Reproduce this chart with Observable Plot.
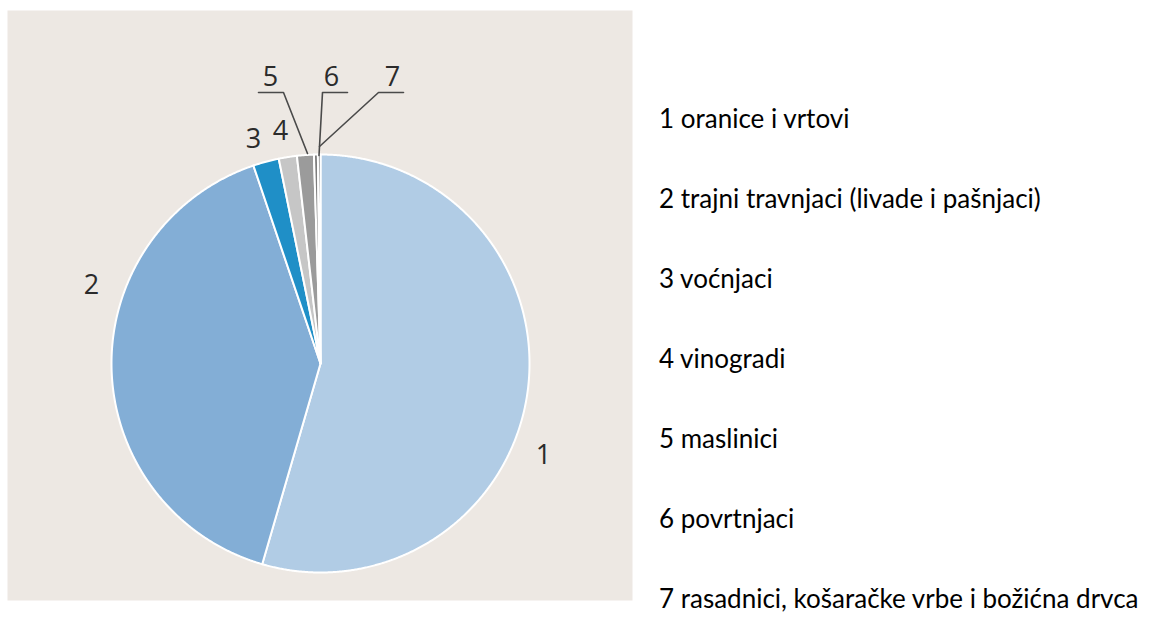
<!DOCTYPE html>
<html>
<head>
<meta charset="utf-8">
<script src="https://cdn.jsdelivr.net/npm/d3@7"></script>
<script src="https://cdn.jsdelivr.net/npm/@observablehq/plot@0.6"></script>
<style>
  html, body { margin: 0; padding: 0; background: #ffffff; }
  #wrap { position: relative; width: 1163px; height: 617px; overflow: hidden; }
  #chart { position: absolute; left: 0; top: 0; }
  #legend { position: absolute; left: 659px; top: 78px; font-family: Lato, "Open Sans", sans-serif; font-size: 26px; color: #000; }
  #legend div { height: 80px; line-height: 80px; white-space: nowrap; }
</style>
</head>
<body>
<div id="wrap">
  <div id="chart"></div>
  <div id="legend"></div>
</div>
<script>
// ---- data ----
const keys = ["1", "2", "3", "4", "5", "6", "7"];
const names = [
  "oranice i vrtovi",
  "trajni travnjaci (livade i pašnjaci)",
  "voćnjaci",
  "vinogradi",
  "maslinici",
  "povrtnjaci",
  "rasadnici, košaračke vrbe i božićna drvca"
];
const shares = [54.5, 40.3, 2.0, 1.4, 1.3, 0.3, 0.2];
const colors = ["#b1cce5", "#83aed6", "#1f8fc7", "#c6c6c6", "#9b9b9b", "#7d7d7d", "#5e5e5e"];

// ---- build slices ----
const R = 209;
const rows = keys.map((k, i) => ({key: k, value: shares[i]}));
const arcs = d3.pie().sort(null).value(d => d.value)(rows);
const pts = [];
for (const a of arcs) {
  const k = a.data.key;
  pts.push({key: k, x: 0, y: 0});
  const n = Math.max(2, Math.ceil((a.endAngle - a.startAngle) / 0.005));
  for (let j = 0; j <= n; j++) {
    const t = a.startAngle + (a.endAngle - a.startAngle) * j / n;
    pts.push({key: k, x: R * Math.sin(t), y: R * Math.cos(t)});
  }
  pts.push({key: k, x: 0, y: 0});
}

// annotation placement (hand-placed in the original)
const labels = [
  {t: "1", x: 223, y: -92},
  {t: "2", x: -229, y: 78},
  {t: "3", x: -67, y: 224},
  {t: "4", x: -40, y: 232},
  {t: "5", x: -50, y: 286},
  {t: "6", x: 11, y: 286},
  {t: "7", x: 72, y: 286}
];
const leaders = [
  {k: "5", x: -62, y: 271}, {k: "5", x: -37, y: 271}, {k: "5", x: -13, y: 210},
  {k: "6", x: 27, y: 271}, {k: "6", x: 2, y: 271}, {k: "6", x: -1.5, y: 208},
  {k: "7", x: 83, y: 271}, {k: "7", x: 58, y: 271}, {k: "7", x: -1, y: 217}
];

const chart = Plot.plot({
  width: 640,
  height: 617,
  marginLeft: 7,
  marginRight: 8,
  marginTop: 10,
  marginBottom: 17,
  x: {domain: [-313, 312], axis: null},
  y: {domain: [-237, 353], axis: null},
  color: {domain: keys, range: colors},
  style: {background: "transparent"},
  marks: [
    Plot.frame({fill: "#ede8e3", stroke: null}),
    Plot.line(pts, {x: "x", y: "y", z: "key", fill: "key", stroke: "#ffffff", strokeWidth: 2, strokeLinejoin: "round", curve: "linear"}),
    Plot.line(leaders, {x: "x", y: "y", z: "k", stroke: "#4a4a4a", strokeWidth: 1.6}),
    Plot.text(labels, {x: "x", y: "y", text: "t", fontSize: 27, fill: "#2b2b2b", fontFamily: "'Open Sans', sans-serif"})
  ]
});
document.getElementById("chart").appendChild(chart);

const legend = document.getElementById("legend");
keys.forEach((k, i) => {
  const d = document.createElement("div");
  d.textContent = k + " " + names[i];
  legend.appendChild(d);
});
</script>
</body>
</html>
